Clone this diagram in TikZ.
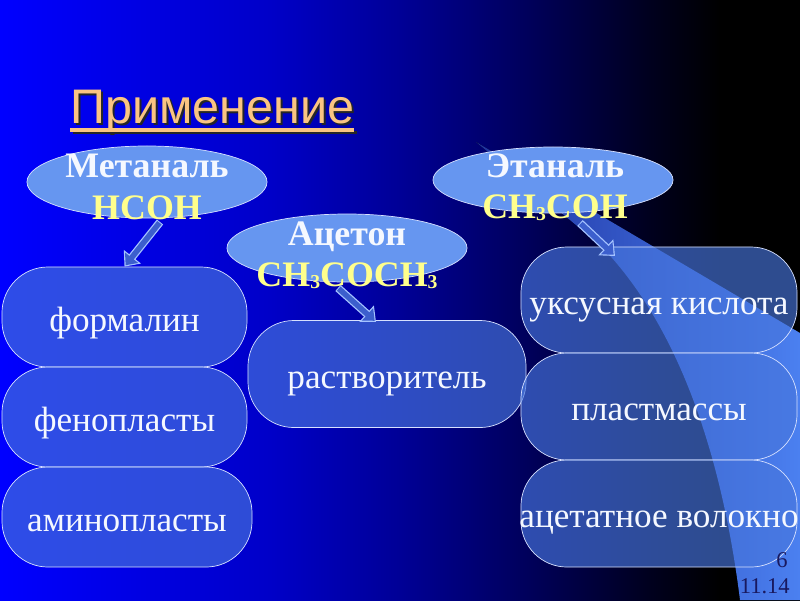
\documentclass[tikz,border=0pt]{standalone}
\usepackage{fontspec}
\setmainfont{Liberation Serif}
\newfontfamily\titlefont{Liberation Sans}
\usetikzlibrary{shapes.geometric,arrows.meta}

\definecolor{bgA}{RGB}{0,0,255}
\definecolor{bgB}{RGB}{0,0,200}
\definecolor{bgC}{RGB}{0,0,150}
\definecolor{bgD}{RGB}{0,0,90}
\definecolor{bgE}{RGB}{0,0,30}
\definecolor{boxfill}{RGB}{71,118,221}
\definecolor{boxline}{RGB}{215,225,255}
\definecolor{ovalfill}{RGB}{102,150,240}
\definecolor{beamcol}{RGB}{75,128,240}
\definecolor{beamdim}{RGB}{30,50,160}
\definecolor{formcol}{RGB}{255,255,140}
\definecolor{labcol}{RGB}{245,248,255}
\definecolor{titlecol}{RGB}{250,196,130}
\definecolor{pagecol}{RGB}{25,25,95}
\definecolor{arrline}{RGB}{165,195,255}
\definecolor{arrfill}{RGB}{60,95,205}

\pgfdeclarehorizontalshading{slidebg}{100bp}{color(0bp)=(bgA); color(25bp)=(bgA);
  color(41.9bp)=(bgB); color(50bp)=(bgC); color(58.1bp)=(bgD); color(65.6bp)=(bgE);
  color(70bp)=(black); color(100bp)=(black)}

\tikzset{
  usebox/.style={draw=boxline, line width=0.5pt, fill=boxfill, fill opacity=0.65,
    text opacity=1, text=labcol, rounded corners=1.15cm, inner sep=0pt,
    text height=20pt, text depth=0pt, font=\fontsize{25}{25}\selectfont},
  oval/.style={ellipse, draw=boxline, line width=0.5pt, fill=ovalfill, inner sep=0pt,
    minimum width=6cm},
  ovaltext/.style={align=center, text=labcol, font=\bfseries\fontsize{25.5}{29.5}\selectfont},
  arrout/.style={draw=arrline, line width=5.7pt, -{Triangle[width=15pt,length=9pt]}},
  arrin/.style={draw=arrfill, line width=3.9pt, shorten >=1.3pt, shorten <=0.7pt,
    -{Triangle[width=11.5pt,length=6.8pt]}},
  title/.style={inner sep=0pt, font=\titlefont\fontsize{34.5}{34.5}\selectfont},
  pagenum/.style={inner sep=0pt, text=pagecol, font=\fontsize{16}{16}\selectfont}
}
\newcommand{\sub}[1]{\raisebox{-1pt}{\fontsize{14}{14}\selectfont #1}}

\begin{document}
\begin{tikzpicture}[x=0.025cm, y=-0.025cm]
  % background and light beam
  \shade[shading=slidebg] (0,0) rectangle (800,600);
  \useasboundingbox (0,0) rectangle (800,600);
  \fill[left color=beamdim, middle color=beamcol, right color=beamcol]
    (476,142) -- (800,333) -- (800,600) -- (740,600)
    .. controls (725,480) and (688,335) .. (600,245) -- cycle;

  % title
  \node[title, text=black!85, anchor=base west] at (72,125) {Применение};
  \node[title, text=titlecol, anchor=base west] (ttl) at (70,123) {Применение};
  \draw[black!85, line width=2.2pt] ([shift={(2pt,-6.5pt)}]ttl.base west) -- ([shift={(2pt,-6.5pt)}]ttl.base east);
  \draw[titlecol, line width=2.2pt] ([yshift=-5pt]ttl.base west) -- ([yshift=-5pt]ttl.base east);

  % uses
  \node[usebox, minimum width=6.125cm, minimum height=2.5cm] (formalin) at (124.5,317) {формалин};
  \node[usebox, minimum width=6.125cm, minimum height=2.5cm] (fenopl) at (124.5,417) {фенопласты};
  \node[usebox, minimum width=6.25cm, minimum height=2.5cm] (aminopl) at (127,517) {аминопласты};
  \node[usebox, minimum width=6.95cm, minimum height=2.675cm] (rastvor) at (387,374) {растворитель};
  \node[usebox, minimum width=6.9cm, minimum height=2.65cm] (uksus) at (659,300) {уксусная кислота};
  \node[usebox, minimum width=6.9cm, minimum height=2.675cm] (plastm) at (659,406.5) {пластмассы};
  \node[usebox, minimum width=6.9cm, minimum height=2.675cm] (acetat) at (659,513.5) {\makebox[0pt]{ацетатное волокно}};

  % aldehydes and ketone
  \node[oval, minimum height=1.8cm] (met) at (147,182) {};
  \node[oval, minimum height=1.7cm] (acet) at (347,248) {};
  \node[oval, minimum height=1.65cm] (etan) at (553,180) {};
  \node[ovaltext] (metT) at (147,187) {Метаналь\\\textcolor{formcol}{HCOH}};
  \node[ovaltext] (acetT) at (347,255) {Ацетон\\\textcolor{formcol}{CH\sub{3}COCH\sub{3}}};
  \node[ovaltext] (etanT) at (555,187) {Этаналь\\\textcolor{formcol}{CH\sub{3}COH}};

  % arrows
  \coordinate (metA) at (160,222);
  \coordinate (acetA) at (338,288);
  \coordinate (rastA) at (376,322);
  \coordinate (etanA) at (580,223);
  \coordinate (uksA) at (615,256);
  \draw[arrout] (metA) -- (formalin.north);
  \draw[arrin] (metA) -- (formalin.north);
  \draw[arrout] (acetA) -- (rastA);
  \draw[arrin] (acetA) -- (rastA);
  \draw[arrout] (etanA) -- (uksA);
  \draw[arrin] (etanA) -- (uksA);

  % slide number and date
  \node[pagenum, anchor=base east] (pnum) at (788,567) {6};
  \node[pagenum, anchor=base east] (pdate) at (790,593) {11.14};
\end{tikzpicture}
\end{document}
